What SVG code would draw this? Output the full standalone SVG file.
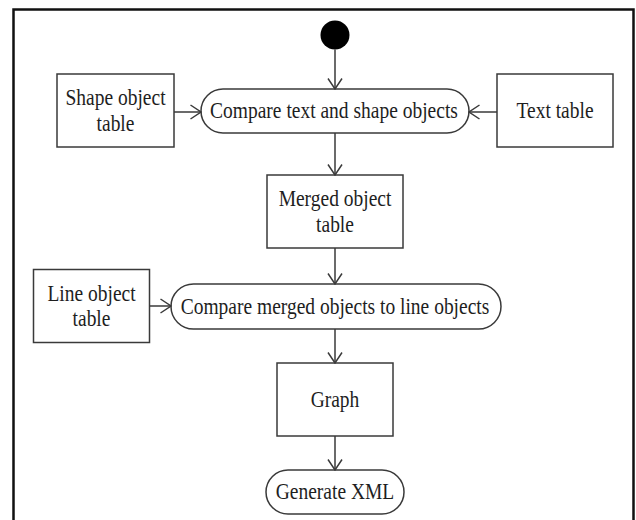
<svg xmlns="http://www.w3.org/2000/svg" width="636" height="520" viewBox="0 0 636 520">
<style>
.box{fill:#fff;stroke:#3a3a3a;stroke-width:1.5}
.pill{fill:#fff;stroke:#3a3a3a;stroke-width:1.5}
.lbl{font-family:"Liberation Serif","Times New Roman",serif;font-size:19.5px;fill:#1e1e1e;text-anchor:middle}
.con{stroke:#3a3a3a;stroke-width:1.5;fill:none;marker-end:url(#arr)}
</style>
<defs>
<marker id="arr" markerUnits="userSpaceOnUse" viewBox="0 0 12 16" refX="11" refY="8" markerWidth="12" markerHeight="16" orient="auto">
<path d="M0.5,1 L11,8 L0.5,15" fill="none" stroke="#3a3a3a" stroke-width="1.5"/>
</marker>
</defs>
<rect width="636" height="520" fill="#fff"/>
<path d="M13.5,522 L13.5,9.5 L633.5,9.5 L633.5,522" fill="none" stroke="#111" stroke-width="2.5"/>
<g id="start">
<circle cx="335" cy="35" r="14.5" fill="#000"/>
</g>
<g id="shape-table">
<rect class="box" x="57" y="74" width="117" height="73"/>
<text class="lbl" transform="translate(115.5,105) scale(1,1.15)">Shape object</text>
<text class="lbl" transform="translate(115.5,131) scale(1,1.15)">table</text>
</g>
<g id="compare-text-shape">
<rect class="pill" x="201" y="89" width="268" height="44" rx="22"/>
<text class="lbl" transform="translate(334,118) scale(1,1.15)">Compare text and shape objects</text>
</g>
<g id="text-table">
<rect class="box" x="497" y="74" width="116" height="73"/>
<text class="lbl" transform="translate(555,118) scale(1,1.15)">Text table</text>
</g>
<g id="merged-table">
<rect class="box" x="267" y="175" width="136" height="73"/>
<text class="lbl" transform="translate(335,206) scale(1,1.15)">Merged object</text>
<text class="lbl" transform="translate(335,232) scale(1,1.15)">table</text>
</g>
<g id="line-table">
<rect class="box" x="33.5" y="269.5" width="116" height="73"/>
<text class="lbl" transform="translate(91.5,300.5) scale(1,1.15)">Line object</text>
<text class="lbl" transform="translate(91.5,326) scale(1,1.15)">table</text>
</g>
<g id="compare-merged-line">
<rect class="pill" x="171" y="284" width="330" height="45" rx="22.5"/>
<text class="lbl" transform="translate(335,313.5) scale(1,1.15)">Compare merged objects to line objects</text>
</g>
<g id="graph">
<rect class="box" x="277" y="363" width="116" height="73"/>
<text class="lbl" transform="translate(335,406.5) scale(1,1.15)">Graph</text>
</g>
<g id="generate-xml">
<rect class="pill" x="266" y="470" width="138" height="44" rx="22"/>
<text class="lbl" transform="translate(335,499) scale(1,1.15)">Generate XML</text>
</g>
<g id="connectors">
<line class="con" x1="335" y1="49.5" x2="335" y2="89"/>
<line class="con" x1="174" y1="112" x2="201" y2="112"/>
<line class="con" x1="497" y1="112" x2="469" y2="112"/>
<line class="con" x1="335" y1="133" x2="335" y2="175"/>
<line class="con" x1="335" y1="248" x2="335" y2="284"/>
<line class="con" x1="149.5" y1="306" x2="171" y2="306"/>
<line class="con" x1="335" y1="329" x2="335" y2="363"/>
<line class="con" x1="335" y1="436" x2="335" y2="470"/>
</g>
</svg>
